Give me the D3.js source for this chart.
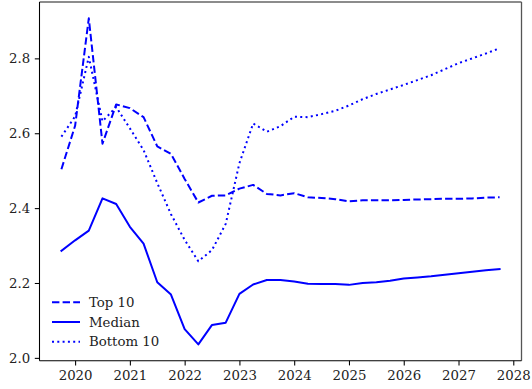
<!DOCTYPE html>
<html>
<head>
<meta charset="utf-8">
<script src="https://cdn.jsdelivr.net/npm/d3@7"></script>
<style>
  html, body { margin: 0; padding: 0; background: #fff; }
  svg { display: block; }
  text { font-family: "DejaVu Serif", serif; font-size: 13.3px; fill: #222; }
</style>
</head>
<body>
<svg id="chart" width="532" height="389"></svg>
<script>
// Quarterly observation dates (decimal years)
const dates = [
  2019.75, 2020.00, 2020.25, 2020.50, 2020.75, 2021.00, 2021.25, 2021.50, 2021.75,
  2022.00, 2022.25, 2022.50, 2022.75, 2023.00, 2023.25, 2023.50, 2023.75,
  2024.00, 2024.25, 2024.50, 2024.75, 2025.00, 2025.25, 2025.50, 2025.75,
  2026.00, 2026.25, 2026.50, 2026.75, 2027.00, 2027.25, 2027.50, 2027.75
];

const top10 = [
  2.504, 2.620, 2.907, 2.572, 2.677, 2.667, 2.643, 2.565, 2.545,
  2.478, 2.415, 2.433, 2.434, 2.452, 2.462, 2.438, 2.434,
  2.440, 2.429, 2.427, 2.424, 2.418, 2.421, 2.421, 2.421,
  2.422, 2.423, 2.424, 2.425, 2.425, 2.426, 2.428, 2.429
];

const median = [
  2.286, 2.314, 2.340, 2.426, 2.411, 2.350, 2.305, 2.202, 2.169,
  2.077, 2.036, 2.088, 2.094, 2.171, 2.196, 2.208, 2.208,
  2.204, 2.198, 2.197, 2.197, 2.195, 2.200, 2.202, 2.206,
  2.212, 2.215, 2.218, 2.222, 2.226, 2.230, 2.234, 2.237
];

const bottom10 = [
  2.591, 2.645, 2.804, 2.632, 2.670, 2.613, 2.555, 2.467, 2.384,
  2.315, 2.258, 2.288, 2.358, 2.520, 2.626, 2.604, 2.619,
  2.644, 2.643, 2.651, 2.660, 2.674, 2.691, 2.705, 2.717,
  2.729, 2.742, 2.755, 2.771, 2.787, 2.800, 2.813, 2.827
];

const seriesNames = ["Top 10", "Median", "Bottom 10"];
const xTickValues = [2020, 2021, 2022, 2023, 2024, 2025, 2026, 2027, 2028];
const yTickValues = [2.0, 2.2, 2.4, 2.6, 2.8];

// Plot area
const plot = { left: 39.5, right: 521.5, top: 2, bottom: 360.7 };
const svg = d3.select("#chart");

// Padded extents (5% margin on each side)
function padded(lo, hi) {
  const m = (hi - lo) * 0.05;
  return [lo - m, hi + m];
}
const allY = top10.concat(median, bottom10);
const x = d3.scaleLinear()
  .domain(padded(d3.min(dates), d3.max(dates)))
  .range([plot.left, plot.right]);
const y = d3.scaleLinear()
  .domain(padded(d3.min(allY), d3.max(allY)))
  .range([plot.bottom, plot.top]);

const styles = [
  { values: top10, dash: "7.4,3.2" },
  { values: median, dash: null },
  { values: bottom10, dash: "2,3.3" }
];

const line = d3.line().x(d => x(d[0])).y(d => y(d[1]));

const g = svg.append("g");
styles.forEach(s => {
  const path = g.append("path")
    .datum(dates.map((d, i) => [d, s.values[i]]))
    .attr("fill", "none")
    .attr("stroke", "#0000ff")
    .attr("stroke-width", 2)
    .attr("stroke-linejoin", "round")
    .attr("d", line);
  if (s.dash) path.attr("stroke-dasharray", s.dash).attr("stroke-linecap", "butt");
  else path.attr("stroke-linecap", "square");
});

// Axes
const xAxis = d3.axisBottom(x).tickValues(xTickValues).tickFormat(d3.format("d"))
  .tickSize(4.7).tickPadding(4.7);
const yAxis = d3.axisLeft(y).tickValues(yTickValues).tickFormat(d3.format(".1f"))
  .tickSize(4.7).tickPadding(4.7);

const gx = svg.append("g").attr("transform", `translate(0,${plot.bottom})`).call(xAxis);
const gy = svg.append("g").attr("transform", `translate(${plot.left},0)`).call(yAxis);
[gx, gy].forEach(a => {
  a.select(".domain").remove();
  a.selectAll(".tick line").attr("stroke", "#000").attr("stroke-width", 1.07);
  a.selectAll(".tick text").attr("fill", "#222")
    .style("font-family", "'DejaVu Serif', serif").style("font-size", "13.3px");
});
gx.selectAll(".tick text").attr("dy", "0.71em");

// Frame
svg.append("line").attr("x1", plot.left).attr("x2", plot.right)
  .attr("y1", plot.top).attr("y2", plot.top).attr("stroke", "#666").attr("stroke-width", 1.6);
svg.append("line").attr("x1", plot.right).attr("x2", plot.right)
  .attr("y1", plot.top).attr("y2", plot.bottom).attr("stroke", "#555").attr("stroke-width", 1.3);
svg.append("line").attr("x1", plot.left).attr("x2", plot.left)
  .attr("y1", plot.top).attr("y2", plot.bottom).attr("stroke", "#000").attr("stroke-width", 1.07);
svg.append("line").attr("x1", plot.left).attr("x2", plot.right)
  .attr("y1", plot.bottom).attr("y2", plot.bottom).attr("stroke", "#000").attr("stroke-width", 1.07);

// Legend
const legend = svg.append("g").attr("transform", "translate(52,302.3)");
seriesNames.forEach((name, i) => {
  const row = legend.append("g").attr("transform", `translate(0,${i * 19.7})`);
  const l = row.append("line").attr("x1", 0).attr("x2", 28).attr("y1", 0).attr("y2", 0)
    .attr("stroke", "#0000ff").attr("stroke-width", 2);
  if (styles[i].dash) l.attr("stroke-dasharray", styles[i].dash);
  row.append("text").attr("x", 37).attr("y", 0).attr("dy", "0.35em").text(name);
});
</script>
</body>
</html>
